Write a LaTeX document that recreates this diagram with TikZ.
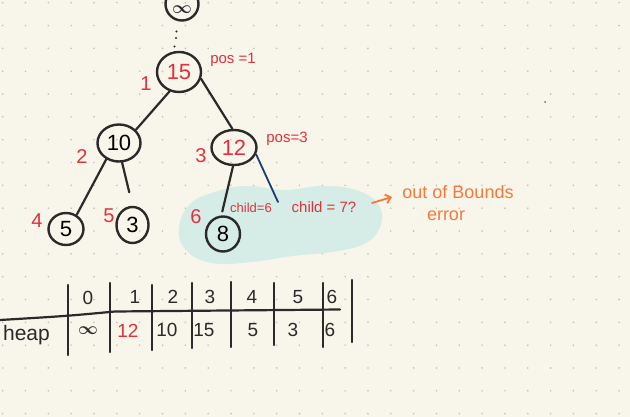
\documentclass[tikz,border=0pt]{standalone}
\usepackage{amsmath}
\usepackage{fontspec}
\setmainfont{Liberation Sans}
\usetikzlibrary{shapes.geometric,arrows.meta}
\definecolor{paper}{HTML}{F8F5EA}
\definecolor{griddot}{HTML}{C4C1B6}
\definecolor{ink}{HTML}{2A2A2A}
\definecolor{redink}{HTML}{E0323C}
\definecolor{blueink}{HTML}{1F3C6E}
\definecolor{orangeink}{HTML}{F5793A}
\definecolor{teal}{HTML}{D6ECE7}
\begin{document}
\begin{tikzpicture}[x=1pt,y=-1pt,
  hnode/.style={draw=ink,line width=2.4pt,ellipse,inner sep=0pt,font=\fontsize{22}{24}\selectfont},
  edge/.style={draw=ink,line width=2.2pt,line cap=round},
  rlab/.style={text=redink,font=\fontsize{20}{22}\selectfont,inner sep=0pt},
  rsmall/.style={text=redink,font=\fontsize{15}{17}\selectfont,inner sep=0pt},
  tnum/.style={text=ink,font=\fontsize{19}{21}\selectfont,inner sep=0pt},
  tline/.style={draw=ink,line width=2.2pt,line cap=round},
  onote/.style={text=orangeink,font=\fontsize{18}{20}\selectfont,inner sep=0pt}]
\useasboundingbox (0,0) rectangle (630,417);
\fill[paper] (0,0) rectangle (630,417);
% dot grid
\foreach \i in {0,...,27}{\foreach \j in {0,...,18}{
  \fill[griddot] ({2.7+22.83*\i},{2.7+22.83*\j}) circle (0.9pt);}}
\fill[ink!70] (545,102) circle (1pt);
% teal highlight
\fill[teal] plot[smooth cycle,tension=0.7] coordinates {(179,228) (190,204) (215,192) (246,186) (285,190) (322,186) (356,190) (378,204) (381,224) (366,243) (332,252) (292,256) (252,262) (212,263) (186,250)};
% top infinity node
\node[hnode,minimum width=33pt,minimum height=33pt] (ninf) at (182,4) {};
\node[inner sep=0pt,font=\fontsize{17}{19}\selectfont,text=ink] (inftxt) at (182,10) {$\boldsymbol{\infty}$};
\coordinate (d1) at (176.5,31.5);
\coordinate (d2) at (176,38);
\coordinate (d3) at (174.5,46.5);
\foreach \d in {d1,d2,d3}{\fill[ink] (\d) circle (1.2pt);}
% tree nodes
\node[hnode,minimum width=44pt,minimum height=40pt,text=redink] (n15) at (179,72) {15};
\node[hnode,minimum width=43pt,minimum height=37pt] (n10) at (119,143) {10};
\node[hnode,minimum width=45pt,minimum height=35pt,text=redink] (n12) at (234,147.5) {12};
\node[hnode,minimum width=35pt,minimum height=32pt] (n5) at (66,229) {5};
\node[hnode,minimum width=32pt,minimum height=36pt] (n3) at (132.5,225) {3};
\node[hnode,minimum width=34pt,minimum height=35pt] (n8) at (223,234) {8};
% index labels
\node[rlab] (l1) at (146,84) {1};
\node[rlab] (l2) at (82,157) {2};
\node[rlab] (l3) at (201,156) {3};
\node[rlab] (l4) at (37,221) {4};
\node[rlab] (l5) at (109,216) {5};
\node[rlab] (l6) at (196,217) {6};
\node[rsmall] (p1) at (233,60) {pos =1};
\node[rsmall] (p3) at (287,139) {pos=3};
\node[rsmall,font=\fontsize{13}{15}\selectfont] (c6) at (251,208) {child=6};
\node[rsmall] (c7) at (324,207) {child = 7?};
% edges
\draw[edge] (n15.244) -- (n10.38);
\draw[edge] (n15.343) -- (n12.95);
\draw[edge] (n10.232) -- (n5.53);
\draw[edge,shorten >=14pt] (n10.279) -- (n3.north);
\draw[edge,shorten >=4pt] (n12.267) -- (n8.95);
\coordinate (c7end) at (278,202);
\draw[draw=blueink,line width=1.8pt,line cap=round] (n12.343) -- (c7end);
% out of bounds note
\node[onote] (oob) at (458,192) {out of Bounds};
\node[onote] (err) at (446,216) {error};
\coordinate (arrS) at (372,203);
\coordinate (arrE) at (392,197);
\draw[draw=orangeink,line width=1.8pt,line cap=round,-{Straight Barb[length=5pt,width=9pt]}] (arrS) -- (arrE);
% table
\coordinate (h0) at (0,320);
\coordinate (h1) at (67,316);
\coordinate (h2) at (115,311.5);
\coordinate (h3) at (340,309.5);
\draw[tline] (h0) .. controls (h1) .. (h2) -- (h3);
\foreach \x/\ya/\yb in {68.3/285/355,110/283/352,151.7/285/350,191.7/283/348,231/282/347,274.3/283/345,322.7/283/347,351.7/280/342}{
  \draw[tline] (\x,\ya) -- (\x,\yb);}
\node[tnum] (t0) at (88,298) {0};
\node[tnum] (t1) at (135,297) {1};
\node[tnum] (t2) at (173,297) {2};
\node[tnum] (t3) at (210,297) {3};
\node[tnum] (t4) at (252,297) {4};
\node[tnum] (t5) at (298,297) {5};
\node[tnum] (t6) at (332,297) {6};
\node[tnum,anchor=east,font=\fontsize{21}{23}\selectfont] (heap) at (50,335) {heap};
\node[tnum] (v0) at (88,331) {$\boldsymbol{\infty}$};
\node[tnum,text=redink] (v1) at (128,331) {12};
\node[tnum] (v2) at (167,330) {10};
\node[tnum] (v3) at (204,330) {15};
\node[tnum] (v4) at (253,330) {5};
\node[tnum] (v5) at (293,330) {3};
\node[tnum] (v6) at (330,330) {6};
\end{tikzpicture}
\end{document}
